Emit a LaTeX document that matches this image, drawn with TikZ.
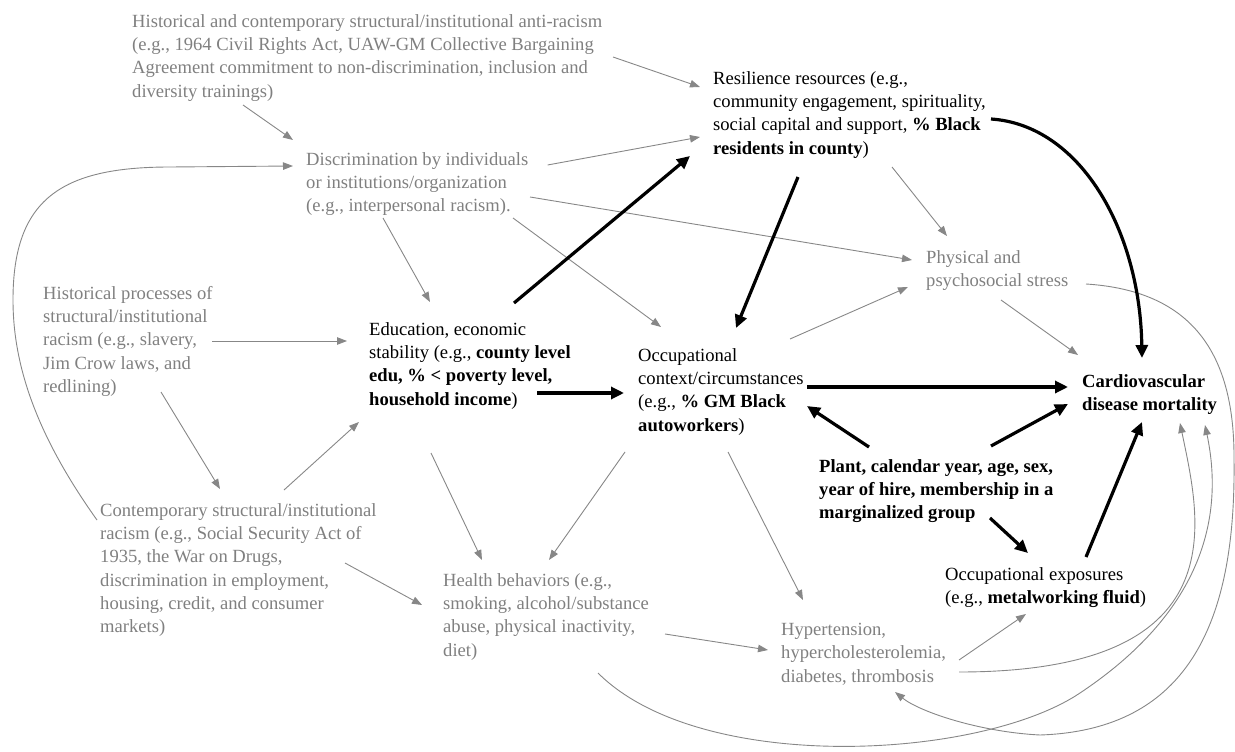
\documentclass[tikz,border=0pt]{standalone}
\usepackage{fontspec}
\setmainfont{Liberation Serif}
\usetikzlibrary{arrows.meta}
\definecolor{txtgray}{RGB}{128,128,128}
\definecolor{lngray}{RGB}{135,135,135}
\tikzset{
  lbl/.style={anchor=north west, inner sep=0pt, align=left, font=\fontsize{18.6}{23.3}\selectfont},
  gtxt/.style={lbl, text=txtgray},
  btxt/.style={lbl, text=black},
  garr/.style={draw=lngray, line width=0.9pt, -{Triangle[length=10pt,width=7.5pt]}},
  barr/.style={draw=black, line width=3.2pt, -{Triangle[length=13pt,width=12pt]}},
}
\begin{document}
\begin{tikzpicture}[x=1pt,y=-1pt]
\useasboundingbox (0,0) rectangle (1235,752);
% nodes
\node[gtxt] (anti) at (132,14) {Historical and contemporary structural/institutional anti-racism\\(e.g., 1964 Civil Rights Act, UAW-GM Collective Bargaining\\Agreement commitment to non-discrimination, inclusion and\\diversity trainings)};
\node[gtxt] (disc) at (306,152) {Discrimination by individuals\\or institutions/organization\\(e.g., interpersonal racism).};
\node[btxt] (res) at (713,71) {Resilience resources (e.g.,\\community engagement, spirituality,\\social capital and support, \textbf{\% Black}\\\textbf{residents in county})};
\node[gtxt] (hist) at (43,286) {Historical processes of\\structural/institutional\\racism (e.g., slavery,\\Jim Crow laws, and\\redlining)};
\node[btxt] (edu) at (369,322) {Education, economic\\stability (e.g., \textbf{county level}\\\textbf{edu, \% < poverty level,}\\\textbf{household income})};
\node[gtxt] (contemp) at (100,503) {Contemporary structural/institutional\\racism (e.g., Social Security Act of\\1935, the War on Drugs,\\discrimination in employment,\\housing, credit, and consumer\\markets)};
\node[btxt] (occ) at (638,348) {Occupational\\context/circumstances\\(e.g., \textbf{\% GM Black}\\\textbf{autoworkers})};
\node[gtxt] (stress) at (926,250) {Physical and\\psychosocial stress};
\node[btxt, font=\fontsize{18.6}{23.3}\selectfont\bfseries] (cvd) at (1082,374) {Cardiovascular\\disease mortality};
\node[btxt, font=\fontsize{18.6}{23.3}\selectfont\bfseries] (plant) at (819,459) {Plant, calendar year, age, sex,\\year of hire, membership in a\\marginalized group};
\node[btxt] (exp) at (945,567) {Occupational exposures\\(e.g., \textbf{metalworking fluid})};
\node[gtxt] (health) at (443,573) {Health behaviors (e.g.,\\smoking, alcohol/substance\\abuse, physical inactivity,\\diet)};
\node[gtxt] (hyper) at (781,623) {Hypertension,\\hypercholesterolemia,\\diabetes, thrombosis};
% gray connectors
\draw[garr] ([shift={(481,43)}]anti.north west) -- ([shift={(-13,16)}]res.north west);
\draw[garr] ([shift={(111,91)}]anti.north west) -- ([shift={(-13,-12)}]disc.north west);
\draw[garr] ([shift={(241.6,13)}]disc.north west) -- ([shift={(-13,66)}]res.north west);
\draw[garr] ([shift={(224,45)}]disc.north west) -- ([shift={(-14,10)}]stress.north west);
\draw[garr] ([shift={(77,66)}]disc.north west) -- ([shift={(61,-20)}]edu.north west);
\draw[garr] ([shift={(207,66)}]disc.north west) -- ([shift={(23,-21)}]occ.north west);
\draw[garr] ([shift={(179,96)}]res.north west) -- ([shift={(21,-14)}]stress.north west);
\draw[garr] ([shift={(169,55)}]hist.north west) -- ([shift={(-22,19)}]edu.north west);
\draw[garr] ([shift={(118,106)}]hist.north west) -- ([shift={(120,-14)}]contemp.north west);
\draw[garr] ([shift={(184,-13)}]contemp.north west) -- ([shift={(-10,100)}]edu.north west);
\draw[garr] ([shift={(-3,17)}]contemp.north west) .. controls (40,440) and (13,370) .. (13,300)
   .. controls (13,200) and (60,167) .. (170,167) -- ([shift={(-13,14)}]disc.north west);
\draw[garr] ([shift={(152,-9)}]occ.north west) -- ([shift={(-18,37)}]stress.north west);
\draw[garr] ([shift={(75,50)}]stress.north west) -- ([shift={(-4,-19)}]cvd.north west);
\draw[garr] ([shift={(62,131)}]edu.north west) -- ([shift={(39,-13)}]health.north west);
\draw[garr] ([shift={(-13,104)}]occ.north west) -- ([shift={(106,-13)}]health.north west);
\draw[garr] ([shift={(90,104)}]occ.north west) -- ([shift={(22,-23)}]hyper.north west);
\draw[garr] ([shift={(245,60)}]contemp.north west) -- ([shift={(-21,32)}]health.north west);
\draw[garr] ([shift={(222,61)}]health.north west) -- ([shift={(-13,27)}]hyper.north west);
\draw[garr] ([shift={(178,37)}]hyper.north west) -- ([shift={(81,47)}]exp.north west);
\draw[garr] ([shift={(178,49)}]hyper.north west) .. controls (1240,672) and (1200,520) .. ([shift={(98,49)}]cvd.north west);
\draw[garr] ([shift={(155,100)}]health.north west) .. controls (700,775) and (980,760) .. (1080,693)
   .. controls (1200,613) and (1225,520) .. ([shift={(123,51)}]cvd.north west);
\draw[garr] ([shift={(160,34)}]stress.north west) .. controls (1180,290) and (1235,340) .. (1234,460)
   .. controls (1236,620) and (1190,730) .. (1040,735)
   .. controls (980,732) and (920,712) .. ([shift={(114,69)}]hyper.north west);
% black connectors
\draw[barr] ([shift={(145,-19)}]edu.north west) -- ([shift={(-23,85)}]res.north west);
\draw[barr] ([shift={(85,106)}]res.north west) -- ([shift={(98,-20)}]occ.north west);
\draw[barr] ([shift={(278,48)}]res.north west) .. controls (1080,125) and (1140,230) .. ([shift={(60,-16)}]cvd.north west);
\draw[barr] ([shift={(168,71)}]edu.north west) -- ([shift={(-14,45)}]occ.north west);
\draw[barr] ([shift={(169,39)}]occ.north west) -- ([shift={(-14,13)}]cvd.north west);
\draw[barr] ([shift={(50,-12)}]plant.north west) -- ([shift={(169,58)}]occ.north west);
\draw[barr] ([shift={(172,-13)}]plant.north west) -- ([shift={(-14,30)}]cvd.north west);
\draw[barr] ([shift={(171,59)}]plant.north west) -- ([shift={(83,-14)}]exp.north west);
\draw[barr] ([shift={(141,-10)}]exp.north west) -- ([shift={(60,48)}]cvd.north west);
\end{tikzpicture}
\end{document}
